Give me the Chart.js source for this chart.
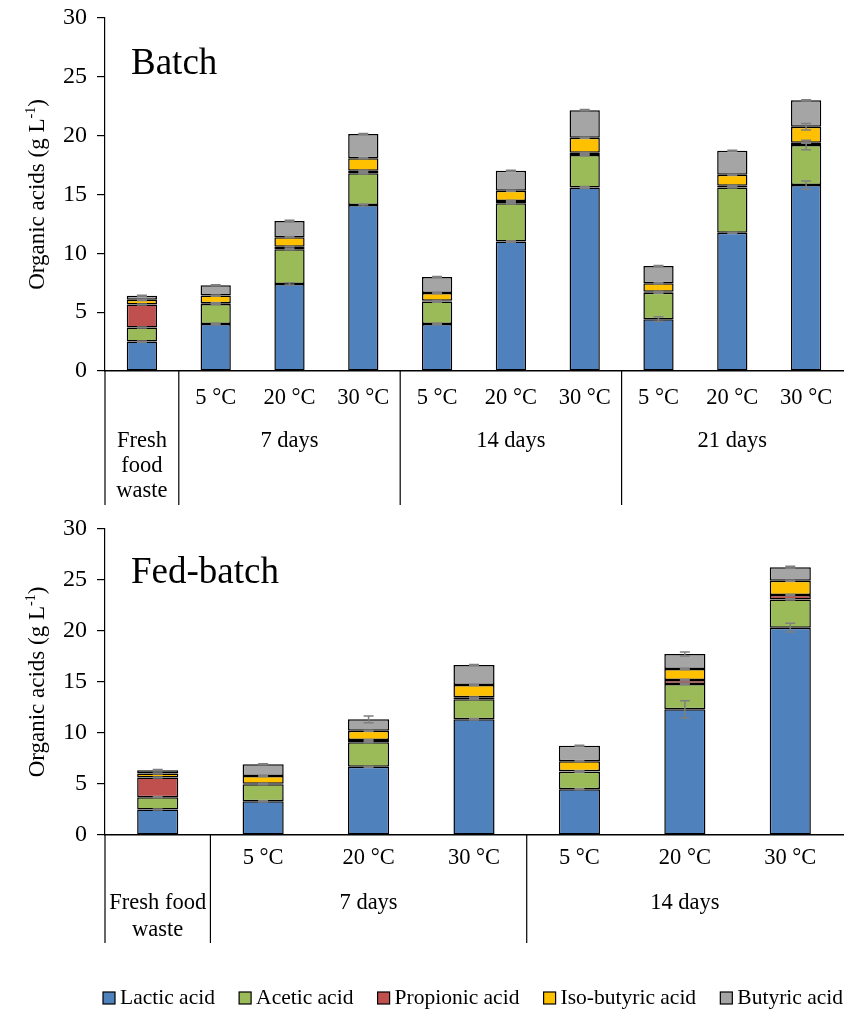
<!DOCTYPE html>
<html>
<head>
<meta charset="utf-8">
<script src="https://cdn.jsdelivr.net/npm/chart.js@4/dist/chart.umd.min.js"></script>
<style>
  html, body { margin: 0; padding: 0; background: #fff; }
  body { width: 844px; height: 1010px; position: relative; overflow: hidden; }
  #batchChart { position: absolute; left: 0; top: 0; }
  #fedChart { position: absolute; left: 0; top: 512px; }
</style>
</head>
<body>
<canvas id="batchChart" width="844" height="512" style="width:844px;height:512px"></canvas>
<canvas id="fedChart" width="844" height="498" style="width:844px;height:498px"></canvas>
<script>
// ---- Series (g L-1), stacked in this order ----
const seriesNames = ['Lactic acid', 'Acetic acid', 'Propionic acid', 'Iso-butyric acid', 'Butyric acid'];
const seriesColors = ['#4F81BD', '#9BBB59', '#C0504D', '#FFC000', '#A5A5A5'];

// Batch storage
const batchCategories = ['Fresh food waste', '7 d, 5 °C', '7 d, 20 °C', '7 d, 30 °C',
  '14 d, 5 °C', '14 d, 20 °C', '14 d, 30 °C', '21 d, 5 °C', '21 d, 20 °C', '21 d, 30 °C'];
const batchTemps = ['', '5 °C', '20 °C', '30 °C', '5 °C', '20 °C', '30 °C', '5 °C', '20 °C', '30 °C'];
const batchGroups = [['Fresh', 'food', 'waste'], ['7 days'], ['14 days'], ['21 days']];
const batchSpans = [[0, 0], [1, 3], [4, 6], [7, 9]];

const batchLactic      = [2.5, 4.0, 7.4, 14.1, 4.0, 11.0, 15.6, 4.4, 11.75, 15.8];
const batchAcetic      = [1.2, 1.7, 2.95, 2.7, 1.9, 3.25, 2.75, 2.25, 3.85, 3.4];
const batchPropionic   = [1.95, 0.06, 0.22, 0.22, 0.06, 0.2, 0.2, 0.08, 0.15, 0.2];
const batchIsoButyric  = [0.4, 0.65, 0.8, 1.06, 0.67, 0.87, 1.27, 0.72, 0.93, 1.36];
const batchButyric     = [0.34, 0.88, 1.38, 2.06, 1.36, 1.7, 2.35, 1.47, 2.04, 2.24];

const batchLacticSd     = [0.05, 0.06, 0.1, 0.08, 0.05, 0.06, 0.08, 0.2, 0.05, 0.35];
const batchAceticSd     = [0.05, 0.05, 0.05, 0.05, 0.05, 0.05, 0.05, 0.05, 0.05, 0.4];
const batchPropionicSd  = [0.05, 0.04, 0.04, 0.04, 0.04, 0.04, 0.04, 0.04, 0.04, 0.04];
const batchIsoButyricSd = [0.05, 0.05, 0.05, 0.05, 0.05, 0.05, 0.05, 0.05, 0.05, 0.28];
const batchButyricSd    = [0.05, 0.05, 0.06, 0.05, 0.05, 0.05, 0.05, 0.05, 0.05, 0.05];

// Fed-batch storage
const fedCategories = ['Fresh food waste', '7 d, 5 °C', '7 d, 20 °C', '7 d, 30 °C',
  '14 d, 5 °C', '14 d, 20 °C', '14 d, 30 °C'];
const fedTemps = ['', '5 °C', '20 °C', '30 °C', '5 °C', '20 °C', '30 °C'];
const fedGroups = [['Fresh food', 'waste'], ['7 days'], ['14 days']];
const fedSpans = [[0, 0], [1, 3], [4, 6]];

const fedLactic      = [2.5, 3.3, 6.7, 11.34, 4.48, 12.32, 20.33];
const fedAcetic      = [1.21, 1.67, 2.39, 1.96, 1.72, 2.48, 2.77];
const fedPropionic   = [1.93, 0.06, 0.22, 0.2, 0.06, 0.4, 0.43];
const fedIsoButyric  = [0.39, 0.75, 0.91, 1.2, 0.96, 1.07, 1.4];
const fedButyric     = [0.33, 1.15, 1.12, 1.97, 1.53, 1.48, 1.31];

const fedLacticSd     = [0.05, 0.07, 0.05, 0.07, 0.05, 0.85, 0.44];
const fedAceticSd     = [0.05, 0.05, 0.05, 0.05, 0.05, 0.05, 0.05];
const fedPropionicSd  = [0.05, 0.04, 0.04, 0.04, 0.04, 0.04, 0.04];
const fedIsoButyricSd = [0.05, 0.05, 0.05, 0.05, 0.05, 0.05, 0.05];
const fedButyricSd    = [0.05, 0.05, 0.33, 0.05, 0.05, 0.2, 0.1];

// Y axis
const yMin = 0, yMax = 30, yStep = 5;

const SERIF = '"Liberation Serif", "Times New Roman", serif';
Chart.defaults.font.family = SERIF;
Chart.defaults.color = '#000';

function buildDatasets(values, errors) {
  return values.map((v, i) => ({
    label: seriesNames[i],
    data: v,
    errors: errors[i],
    backgroundColor: seriesColors[i],
    borderColor: '#000',
    borderWidth: 1.5,
    borderSkipped: false,
    stack: 'acids'
  }));
}

// Standard-deviation whiskers at the top of each stacked segment
const errorBars = {
  id: 'errorBars',
  afterDatasetsDraw(chart) {
    const ctx = chart.ctx, ys = chart.scales.y;
    const sets = chart.data.datasets;
    const n = chart.data.labels.length;
    ctx.save();
    ctx.strokeStyle = '#7F7F7F';
    ctx.lineWidth = 1.5;
    for (let j = 0; j < n; j++) {
      let cum = 0;
      sets.forEach((d, i) => {
        cum += d.data[j];
        const el = chart.getDatasetMeta(i).data[j];
        const e = d.errors[j];
        const x = el.x;
        const y1 = ys.getPixelForValue(cum + e);
        const y2 = ys.getPixelForValue(cum - e);
        ctx.beginPath();
        ctx.moveTo(x, y1); ctx.lineTo(x, y2);
        ctx.moveTo(x - 5, y1); ctx.lineTo(x + 5, y1);
        ctx.moveTo(x - 5, y2); ctx.lineTo(x + 5, y2);
        ctx.stroke();
      });
    }
    ctx.restore();
  }
};

// Two-level category labels, group rules, panel title and y-axis title
const groupAxis = {
  id: 'groupAxis',
  afterDraw(chart, args, o) {
    const ctx = chart.ctx, xs = chart.scales.x, area = chart.chartArea;
    const base = area.bottom;
    const step = xs.getPixelForValue(1) - xs.getPixelForValue(0);
    ctx.save();
    ctx.fillStyle = '#000';
    ctx.strokeStyle = '#000';
    ctx.lineWidth = 1.2;
    ctx.font = '22.5px ' + SERIF;
    ctx.textAlign = 'center';
    ctx.textBaseline = 'middle';
    o.temps.forEach((t, i) => {
      if (t) ctx.fillText(t, xs.getPixelForValue(i), base + o.tempOffset);
    });
    o.groups.forEach((lines, g) => {
      const [a, b] = o.spans[g];
      const cx = (xs.getPixelForValue(a) + xs.getPixelForValue(b)) / 2;
      lines.forEach((ln, k) => ctx.fillText(ln, cx, base + o.groupOffset + k * o.lineGap));
      const left = g === 0 ? area.left : xs.getPixelForValue(a) - step / 2;
      ctx.beginPath();
      ctx.moveTo(left, base);
      ctx.lineTo(left, base + o.rule);
      ctx.stroke();
    });

    // panel title
    ctx.font = '37px ' + SERIF;
    ctx.textAlign = 'left';
    ctx.textBaseline = 'alphabetic';
    ctx.fillText(o.title, o.titleX, o.titleY);

    // rotated y-axis title with superscript
    ctx.translate(o.yTitleX, (area.top + area.bottom) / 2);
    ctx.rotate(-Math.PI / 2);
    const main = 'Organic acids (g L', sup = '-1', end = ')';
    const big = '23px ' + SERIF, small = '14px ' + SERIF;
    ctx.font = big;
    const w1 = ctx.measureText(main).width, w3 = ctx.measureText(end).width;
    ctx.font = small;
    const w2 = ctx.measureText(sup).width;
    const x0 = -(w1 + w2 + w3) / 2;
    ctx.textBaseline = 'middle';
    ctx.font = big;  ctx.fillText(main, x0, 0);
    ctx.font = small; ctx.fillText(sup, x0 + w1, -7);
    ctx.font = big;  ctx.fillText(end, x0 + w1 + w2, 0);
    ctx.restore();
  }
};

// One-row legend stretched between two x positions
const legendRow = {
  id: 'legendRow',
  afterDraw(chart, args, o) {
    const ctx = chart.ctx;
    ctx.save();
    ctx.font = o.font;
    const items = chart.data.datasets.map(d => ({
      text: d.label, color: d.backgroundColor, w: ctx.measureText(d.label).width
    }));
    const box = 12, gapText = 5;
    const used = items.reduce((s, it) => s + box + gapText + it.w, 0);
    const gap = (o.right - o.left - used) / (items.length - 1);
    const y = chart.chartArea.bottom + o.offset;
    let x = o.left;
    items.forEach(it => {
      ctx.fillStyle = it.color;
      ctx.fillRect(x, y - box / 2, box, box);
      ctx.strokeStyle = '#000';
      ctx.lineWidth = 1.2;
      ctx.strokeRect(x, y - box / 2, box, box);
      ctx.fillStyle = '#000';
      ctx.textAlign = 'left';
      ctx.textBaseline = 'middle';
      ctx.fillText(it.text, x + box + gapText, y);
      x += box + gapText + it.w + gap;
    });
    ctx.restore();
  }
};

function scalesFor(xHeight) {
  return {
    x: {
      type: 'category',
      stacked: true,
      grid: { display: false },
      border: { display: true, color: '#000', width: 1.5 },
      ticks: { display: false },
      afterFit(scale) { scale.height = xHeight; }
    },
    y: {
      stacked: true,
      min: yMin, max: yMax,
      ticks: { stepSize: yStep, padding: 10, font: { size: 24, family: SERIF }, color: '#000' },
      grid: { display: true, drawOnChartArea: false, drawTicks: true, tickLength: 8, color: '#000', lineWidth: 1.2 },
      border: { display: true, color: '#000', width: 1.2 },
      afterFit(scale) {
        scale.width = 105;
        scale.paddingTop = 0;
        scale.paddingBottom = 0;
      }
    }
  };
}

new Chart(document.getElementById('batchChart'), {
  type: 'bar',
  data: {
    labels: batchCategories,
    datasets: buildDatasets(
      [batchLactic, batchAcetic, batchPropionic, batchIsoButyric, batchButyric],
      [batchLacticSd, batchAceticSd, batchPropionicSd, batchIsoButyricSd, batchButyricSd])
  },
  options: {
    responsive: false,
    devicePixelRatio: 1,
    animation: false,
    datasets: { bar: { categoryPercentage: 1, barPercentage: 0.41 } },
    layout: { padding: { top: 18, right: 1, left: 0, bottom: 0 } },
    scales: scalesFor(141),
    plugins: {
      legend: { display: false },
      tooltip: { enabled: false },
      groupAxis: {
        temps: batchTemps, groups: batchGroups, spans: batchSpans,
        tempOffset: 27, groupOffset: 70, lineGap: 25, rule: 134,
        title: 'Batch', titleX: 131, titleY: 74, yTitleX: 38
      }
    }
  },
  plugins: [errorBars, groupAxis]
});

new Chart(document.getElementById('fedChart'), {
  type: 'bar',
  data: {
    labels: fedCategories,
    datasets: buildDatasets(
      [fedLactic, fedAcetic, fedPropionic, fedIsoButyric, fedButyric],
      [fedLacticSd, fedAceticSd, fedPropionicSd, fedIsoButyricSd, fedButyricSd])
  },
  options: {
    responsive: false,
    devicePixelRatio: 1,
    animation: false,
    datasets: { bar: { categoryPercentage: 1, barPercentage: 0.39 } },
    layout: { padding: { top: 17, right: 1, left: 0, bottom: 60 } },
    scales: scalesFor(115),
    plugins: {
      legend: { display: false },
      tooltip: { enabled: false },
      groupAxis: {
        temps: fedTemps, groups: fedGroups, spans: fedSpans,
        tempOffset: 23, groupOffset: 68, lineGap: 27, rule: 108,
        title: 'Fed-batch', titleX: 131, titleY: 71, yTitleX: 38
      },
      legendRow: { font: '21.5px ' + SERIF, left: 103, right: 843, offset: 163 }
    }
  },
  plugins: [errorBars, groupAxis, legendRow]
});
</script>
</body>
</html>
